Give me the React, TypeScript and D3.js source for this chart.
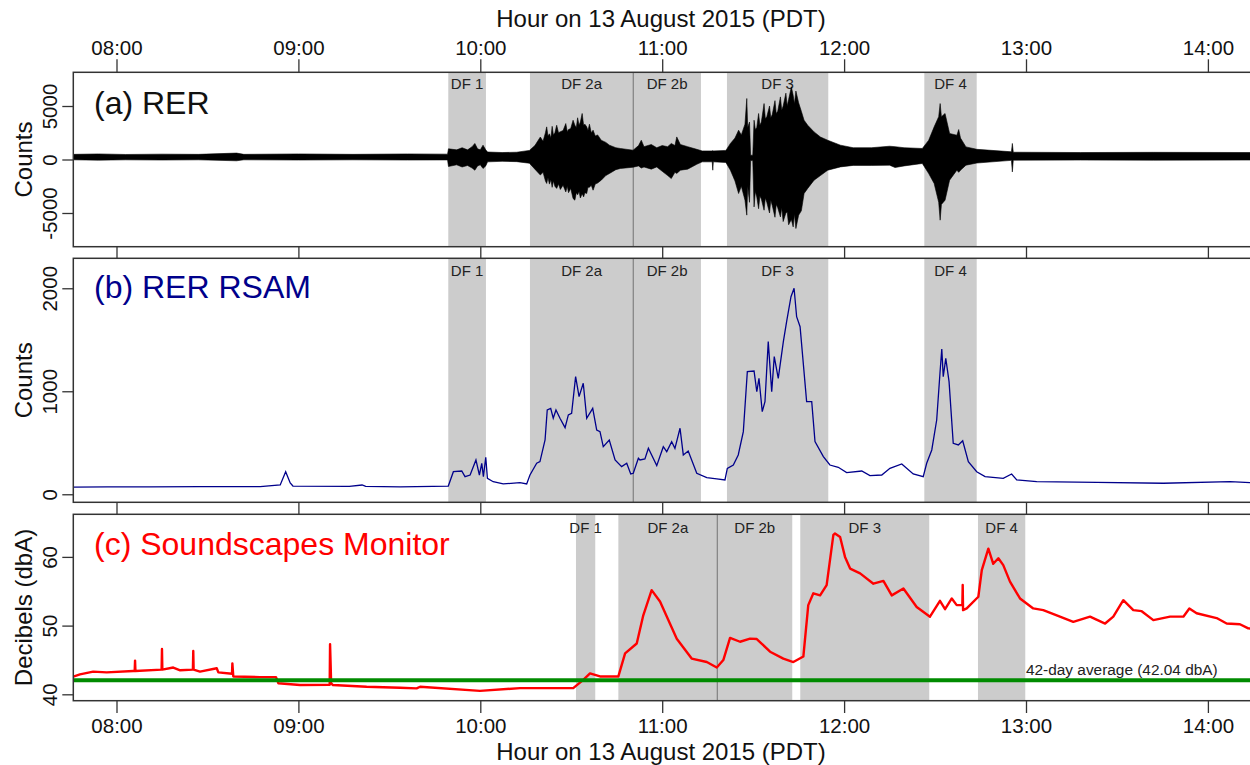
import React, { useRef, useEffect } from "react";
import * as d3 from "d3";

const width = 1250;
const height = 765;
const font = "'Liberation Sans', Arial, sans-serif";

// panel boxes (px)
const plotLeft = 73.3;
const hourPx = 181.9;
const panels = [
    { top: 72.3, bottom: 246.7 },
    { top: 258.3, bottom: 502.3 },
    { top: 514.3, bottom: 700.7 },
];

// x domain in decimal hours
const xStart = 7.7625;
const xEnd = 14.29;
const hourTicks = [8, 9, 10, 11, 12, 13, 14];

const dfLabels = ["DF 1", "DF 2a", "DF 2b", "DF 3", "DF 4"];
const seisStart = [9.824, 10.273, 10.841, 11.356, 12.441];
const seisEnd = [10.031, 10.841, 11.213, 11.913, 12.729];
const soundStart = [10.526, 10.759, 11.303, 11.759, 12.736];
const soundEnd = [10.632, 11.303, 11.715, 12.468, 12.996];

const rerTicks = [-5000, 0, 5000];
const rsamTicks = [0, 1000, 2000];
const dbTicks = [40, 50, 60];
const avgDb = 42.04;

// (a) RER waveform envelope: [hour, upper, lower]
const rerEnvelope = [
    [7.7625, 480, -30], [7.9, 520, -60], [8.05, 470, -30], [8.25, 500, -50], [8.45, 480, -30],
    [8.66, 600, -120], [8.7, 480, -30], [9.0, 520, -50], [9.3, 480, -30], [9.6, 520, -50],
    [9.82, 500, -40], [9.825, 1000, -650], [9.87, 900, -500], [9.9, 1100, -700], [9.93, 900, -560],
    [9.955, 1200, -800], [9.97, 1500, -1000], [9.985, 1000, -600], [10.0, 900, -500], [10.015, 1340, -840],
    [10.03, 900, -600], [10.04, 700, -220], [10.12, 650, -170], [10.2, 680, -200], [10.27, 850, -350],
    [10.3, 1300, -900], [10.33, 2100, -1450], [10.345, 1700, -1200], [10.358, 2500, -2000], [10.365, 3050, -2240],
    [10.372, 2200, -1700], [10.38, 2400, -2300], [10.388, 2000, -1900], [10.395, 3100, -2600], [10.402, 2300, -2000],
    [10.41, 2500, -2500], [10.42, 3200, -2700], [10.43, 2500, -2300], [10.44, 2600, -2800], [10.455, 2700, -2400],
    [10.47, 3360, -3030], [10.478, 2600, -2500], [10.485, 2800, -3100], [10.497, 2900, -2700], [10.51, 3670, -3650],
    [10.52, 3200, -3800], [10.528, 3000, -3100], [10.535, 3900, -3300], [10.543, 3200, -3000], [10.55, 3500, -3600],
    [10.56, 4300, -3200], [10.568, 3200, -3500], [10.575, 3300, -3100], [10.585, 3050, -3180], [10.592, 2700, -2600],
    [10.6, 3300, -2600], [10.61, 2500, -2400], [10.62, 2740, -2870], [10.632, 2200, -2300], [10.645, 2300, -2200],
    [10.665, 1800, -1930], [10.69, 1600, -1500], [10.71, 1340, -1310], [10.745, 1100, -950],
    [10.77, 1030, -840], [10.84, 870, -720], [10.87, 1300, -600], [10.885, 1800, -800], [10.9, 1200, -700],
    [10.94, 1400, -900], [10.97, 1100, -700], [11.0, 1300, -1100], [11.03, 1200, -1500], [11.05, 1500, -1780],
    [11.07, 1300, -1200], [11.08, 2110, -1300], [11.1, 1400, -1000], [11.14, 1200, -900], [11.19, 950, -450],
    [11.22, 800, -220], [11.275, 800, -220], [11.278, 850, -1000], [11.281, 800, -220], [11.35, 850, -280],
    [11.375, 1500, -1000], [11.4, 2000, -2000], [11.42, 2740, -3180], [11.435, 2300, -2500], [11.455, 3300, -3800],
    [11.465, 5700, -5200], [11.47, 3000, -2500], [11.48, 3500, -4000], [11.486, 400, -100], [11.498, 400, -100],
    [11.505, 3670, -4430], [11.512, 2800, -3000], [11.52, 3000, -3500], [11.53, 4300, -4600], [11.537, 3200, -3400],
    [11.545, 3500, -3700], [11.56, 5230, -4740], [11.567, 3800, -3600], [11.575, 4000, -4000], [11.59, 5000, -5000],
    [11.597, 3900, -3800], [11.605, 4200, -4300], [11.62, 5500, -5400], [11.627, 4300, -4200], [11.635, 4500, -4500],
    [11.65, 5850, -5370], [11.657, 4600, -4500], [11.665, 5000, -5800], [11.68, 6200, -5000], [11.687, 5000, -4900],
    [11.695, 5600, -6100], [11.71, 6790, -5600], [11.72, 6000, -6300], [11.727, 5200, -5100], [11.735, 6400, -6450],
    [11.75, 5300, -5200], [11.765, 4500, -4800], [11.78, 3670, -3180], [11.8, 3200, -2700], [11.835, 2580, -1930],
    [11.87, 2100, -1500], [11.91, 1800, -1000], [11.98, 1340, -690], [12.05, 1100, -550], [12.15, 1100, -550],
    [12.25, 1240, -530], [12.28, 1200, -750], [12.33, 1100, -600], [12.43, 1030, -370], [12.465, 1800, -1310],
    [12.495, 3050, -2240], [12.52, 4000, -4000], [12.528, 5230, -5670], [12.535, 4000, -4200], [12.555, 4300, -3800],
    [12.58, 2430, -1930], [12.62, 2270, -1000], [12.63, 2800, -1200], [12.64, 2000, -1000], [12.67, 1180, -530],
    [12.73, 950, -330], [12.92, 720, -80], [12.925, 1500, -1160], [12.93, 680, -60], [13.3, 650, -50],
    [13.7, 670, -60], [14.29, 650, -50],
];

// (b) RER RSAM: [hour, counts]
const rsam = [
    [7.7625, 70], [7.95, 72], [8.18, 72], [8.46, 74], [8.79, 75], [8.9, 90], [8.93, 219], [8.955, 110],
    [8.97, 80], [9.28, 76], [9.35, 90], [9.37, 76], [9.56, 72], [9.824, 80], [9.852, 219], [9.898, 226],
    [9.916, 171], [9.944, 187], [9.976, 333], [9.995, 187], [10.008, 301], [10.017, 171], [10.03, 359],
    [10.039, 155], [10.071, 122], [10.126, 100], [10.218, 113], [10.255, 100], [10.273, 187], [10.31, 301],
    [10.328, 317], [10.356, 527], [10.368, 818], [10.387, 834], [10.401, 738], [10.416, 818], [10.438, 738],
    [10.466, 647], [10.484, 770], [10.502, 786], [10.524, 1142], [10.543, 948], [10.566, 1078], [10.585, 738],
    [10.618, 834], [10.64, 624], [10.658, 608], [10.676, 462], [10.709, 527], [10.741, 333], [10.777, 268],
    [10.805, 301], [10.827, 197], [10.841, 204], [10.869, 350], [10.878, 333], [10.905, 343], [10.924, 446],
    [10.97, 278], [11.006, 462], [11.025, 414], [11.052, 511], [11.07, 446], [11.098, 641], [11.116, 382],
    [11.143, 420], [11.19, 204], [11.245, 161], [11.3, 149], [11.345, 139], [11.358, 252], [11.391, 284],
    [11.418, 382], [11.446, 608], [11.468, 1190], [11.505, 1197], [11.52, 996], [11.532, 1126], [11.55, 802],
    [11.565, 899], [11.583, 1482], [11.602, 996], [11.616, 1336], [11.638, 1126], [11.666, 1482], [11.684, 1676],
    [11.708, 1918], [11.725, 2000], [11.739, 1724], [11.758, 1627], [11.794, 899], [11.822, 899], [11.84, 511],
    [11.886, 365], [11.922, 284], [11.968, 262], [12.014, 210], [12.097, 226], [12.142, 181], [12.207, 187],
    [12.252, 252], [12.317, 294], [12.38, 197], [12.435, 171], [12.454, 301], [12.482, 430], [12.509, 721],
    [12.527, 1175], [12.537, 1411], [12.545, 1142], [12.559, 1320], [12.577, 1093], [12.6, 495], [12.628, 479],
    [12.652, 520], [12.683, 317], [12.729, 219], [12.775, 171], [12.875, 155], [12.921, 197], [12.949, 139],
    [13.059, 122], [13.389, 116], [13.755, 107], [14.122, 122], [14.29, 107],
];

// (c) Soundscapes monitor: [hour, dbA]
const soundDb = [
    [7.7625, 42.56], [7.799, 42.9], [7.872, 43.3], [7.946, 43.2], [8.092, 43.4], [8.1, 43.4], [8.102, 44.9],
    [8.104, 43.4], [8.248, 43.6], [8.25, 46.6], [8.252, 43.6], [8.312, 43.9], [8.35, 43.5], [8.42, 43.6],
    [8.422, 46.3], [8.424, 43.6], [8.459, 43.3], [8.551, 43.8], [8.56, 43.2], [8.635, 43.0], [8.637, 44.5],
    [8.642, 42.6], [8.789, 42.5], [8.877, 42.5], [8.89, 41.6], [9.009, 41.35], [9.172, 41.4], [9.174, 47.3],
    [9.177, 44.5], [9.18, 41.6], [9.19, 41.35], [9.375, 41.1], [9.559, 40.96], [9.65, 40.87], [9.669, 41.1],
    [9.998, 40.5], [10.218, 40.9], [10.511, 40.9], [10.566, 42.1], [10.603, 43.05], [10.658, 42.6],
    [10.759, 42.6], [10.796, 45.96], [10.86, 47.4], [10.896, 51.5], [10.942, 55.16], [10.988, 53.5],
    [11.08, 48.1], [11.162, 45.2], [11.245, 44.7], [11.3, 43.9], [11.336, 44.99], [11.373, 48.2],
    [11.428, 47.65], [11.483, 48.1], [11.52, 48.04], [11.593, 46.2], [11.666, 45.2], [11.721, 44.7],
    [11.776, 45.5], [11.803, 52.98], [11.831, 54.7], [11.868, 54.4], [11.904, 55.9], [11.941, 63.2],
    [11.95, 63.4], [11.978, 62.9], [12.005, 60.0], [12.033, 58.3], [12.088, 57.6], [12.161, 56.1],
    [12.216, 56.5], [12.262, 54.4], [12.326, 55.4], [12.399, 52.7], [12.472, 51.3], [12.527, 53.6],
    [12.555, 52.4], [12.592, 53.95], [12.619, 52.98], [12.65, 53.0], [12.652, 55.9], [12.654, 52.25],
    [12.674, 52.5], [12.738, 54.2], [12.757, 58.07], [12.793, 61.2], [12.82, 59.0], [12.848, 59.8],
    [12.875, 58.8], [12.912, 56.4], [12.967, 53.95], [13.04, 52.5], [13.095, 52.25], [13.169, 51.5],
    [13.26, 50.55], [13.352, 51.3], [13.435, 50.3], [13.48, 51.3], [13.535, 53.7], [13.59, 52.25],
    [13.636, 52.1], [13.7, 50.8], [13.792, 51.3], [13.865, 51.3], [13.898, 52.5], [13.938, 51.8],
    [14.048, 51.1], [14.103, 50.3], [14.176, 50.2], [14.222, 49.6], [14.29, 49.5],
];

const hourLabel = (h) => (h < 10 ? "0" : "") + h + ":00";

export default function App() {
    const ref = useRef(null);

    useEffect(() => {
        const svg = d3.select(ref.current);
        svg.selectAll("*").remove();

        const x = d3.scaleLinear()
            .domain([xStart, xEnd])
            .range([plotLeft, plotLeft + (xEnd - xStart) * hourPx]);

        const yA = d3.scaleLinear().domain([-8150, 8150]).range([panels[0].bottom, panels[0].top]);
        const yB = d3.scaleLinear().domain([-78, 2291]).range([panels[1].bottom, panels[1].top]);
        const yC = d3.scaleLinear().domain([39.07, 66.2]).range([panels[2].bottom, panels[2].top]);

        const defs = svg.append("defs");
        panels.forEach((p, i) => {
            defs.append("clipPath").attr("id", "clip" + i)
                .append("rect")
                .attr("x", plotLeft).attr("y", p.top)
                .attr("width", width - plotLeft + 20).attr("height", p.bottom - p.top);
        });

        // shaded debris-flow windows
        const shade = (i, starts, ends, labelY) => {
            const g = svg.append("g").attr("clip-path", `url(#clip${i})`);
            const p = panels[i];
            starts.forEach((s, k) => {
                g.append("rect")
                    .attr("x", x(s)).attr("y", p.top)
                    .attr("width", x(ends[k]) - x(s)).attr("height", p.bottom - p.top)
                    .attr("fill", "#cccccc");
                g.append("text")
                    .attr("x", (x(s) + x(ends[k])) / 2).attr("y", labelY)
                    .attr("text-anchor", "middle")
                    .attr("font-size", 15).attr("font-family", font).attr("fill", "#222")
                    .text(dfLabels[k]);
            });
            g.append("line")
                .attr("x1", x(ends[1])).attr("x2", x(ends[1]))
                .attr("y1", p.top).attr("y2", p.bottom)
                .attr("stroke", "#808080").attr("stroke-width", 1.2);
        };
        shade(0, seisStart, seisEnd, 89);
        shade(1, seisStart, seisEnd, 275.5);
        shade(2, soundStart, soundEnd, 533);

        // (a) waveform envelope
        const area = d3.area()
            .x(d => x(d[0]))
            .y0(d => yA(d[2]))
            .y1(d => yA(d[1]));
        svg.append("g").attr("clip-path", "url(#clip0)")
            .append("path")
            .datum(rerEnvelope)
            .attr("d", area)
            .attr("fill", "black")
            .attr("stroke", "black")
            .attr("stroke-width", 0.6);

        // (b) RSAM
        const lineB = d3.line().x(d => x(d[0])).y(d => yB(d[1]));
        svg.append("g").attr("clip-path", "url(#clip1)")
            .append("path")
            .datum(rsam)
            .attr("d", lineB)
            .attr("fill", "none")
            .attr("stroke", "#00008b")
            .attr("stroke-width", 1.3);

        // (c) sound level
        const lineC = d3.line().x(d => x(d[0])).y(d => yC(d[1]));
        const gc = svg.append("g").attr("clip-path", "url(#clip2)");
        gc.append("path")
            .datum(soundDb)
            .attr("d", lineC)
            .attr("fill", "none")
            .attr("stroke", "#ff0000")
            .attr("stroke-width", 2.4)
            .attr("stroke-linejoin", "round");
        gc.append("line")
            .attr("x1", x(xStart)).attr("x2", x(xEnd))
            .attr("y1", yC(avgDb)).attr("y2", yC(avgDb))
            .attr("stroke", "#008b00").attr("stroke-width", 4);
        svg.append("text")
            .attr("x", x(13)).attr("y", yC(avgDb) - 5)
            .attr("font-size", 15.4).attr("font-family", font).attr("fill", "#222")
            .text("42-day average (42.04 dbA)");

        // frames
        panels.forEach(p => {
            svg.append("rect")
                .attr("x", plotLeft).attr("y", p.top)
                .attr("width", x(xEnd) - plotLeft).attr("height", p.bottom - p.top)
                .attr("fill", "none").attr("stroke", "#333").attr("stroke-width", 1.5);
        });

        const styleAxis = (g) => {
            g.select(".domain").remove();
            g.selectAll("line").attr("stroke", "#333").attr("stroke-width", 1.3);
            g.selectAll("text").attr("font-size", 20.5).attr("font-family", font).attr("fill", "#111");
        };

        // x axes
        svg.append("g")
            .attr("transform", `translate(0,${panels[0].top})`)
            .call(d3.axisTop(x).tickValues(hourTicks).tickFormat(hourLabel).tickSize(13).tickPadding(4.3))
            .call(styleAxis)
            .call(g => g.selectAll("text").attr("dy", 0));
        svg.append("g")
            .attr("transform", `translate(0,${panels[0].bottom})`)
            .call(d3.axisBottom(x).tickValues(hourTicks).tickFormat("").tickSize(panels[1].top - panels[0].bottom))
            .call(styleAxis);
        svg.append("g")
            .attr("transform", `translate(0,${panels[1].bottom})`)
            .call(d3.axisBottom(x).tickValues(hourTicks).tickFormat("").tickSize(panels[2].top - panels[1].bottom))
            .call(styleAxis);
        svg.append("g")
            .attr("transform", `translate(0,${panels[2].bottom})`)
            .call(d3.axisBottom(x).tickValues(hourTicks).tickFormat(hourLabel).tickSize(12.3))
            .call(styleAxis)
            .call(g => g.selectAll("text").attr("dy", 0).attr("y", 32.8));

        // y axes, labels rotated like base R
        const yAxis = (scale, ticks) => g => g
            .attr("transform", `translate(${plotLeft},0)`)
            .call(d3.axisLeft(scale).tickValues(ticks).tickFormat(d => String(d)).tickSize(11))
            .call(styleAxis)
            .call(g => g.selectAll("text")
                .attr("transform", "rotate(-90)")
                .attr("x", 0).attr("y", -16.8).attr("dy", 0)
                .attr("text-anchor", "middle"));
        svg.append("g").call(yAxis(yA, rerTicks));
        svg.append("g").call(yAxis(yB, rsamTicks));
        svg.append("g").call(yAxis(yC, dbTicks));

        const yTitles = ["Counts", "Counts", "Decibels (dbA)"];
        panels.forEach((p, i) => {
            const cy = (p.top + p.bottom) / 2;
            svg.append("text")
                .attr("transform", `translate(32,${cy}) rotate(-90)`)
                .attr("text-anchor", "middle")
                .attr("font-size", 24).attr("font-family", font).attr("fill", "#111")
                .text(yTitles[i]);
        });

        // x titles
        const xTitle = "Hour on 13 August 2015 (PDT)";
        [27, 759.5].forEach(yy => {
            svg.append("text")
                .attr("x", 661).attr("y", yy)
                .attr("text-anchor", "middle")
                .attr("font-size", 24).attr("font-family", font).attr("fill", "#111")
                .text(xTitle);
        });

        // panel titles
        const titles = [
            { text: "(a) RER", y: 114, color: "#111" },
            { text: "(b) RER RSAM", y: 298, color: "#00008b" },
            { text: "(c) Soundscapes Monitor", y: 555, color: "#ff0000" },
        ];
        titles.forEach(t => {
            svg.append("text")
                .attr("x", 94).attr("y", t.y)
                .attr("font-size", 32).attr("font-family", font).attr("fill", t.color)
                .text(t.text);
        });
    }, []);

    return (
        <svg
            ref={ref}
            width={width}
            height={height}
            style={{ position: "absolute", left: 0, top: 0, background: "white" }}
        />
    );
}
